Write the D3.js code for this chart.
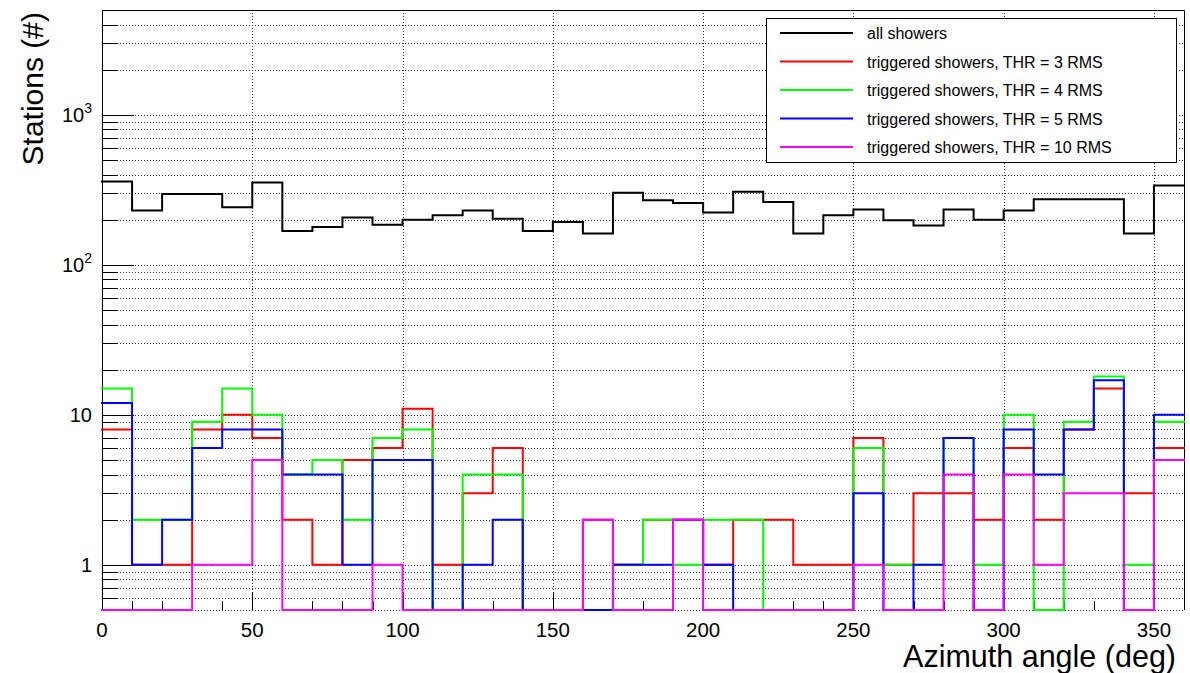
<!DOCTYPE html>
<html>
<head>
<meta charset="utf-8">
<script src="https://cdn.jsdelivr.net/npm/d3@7"></script>
<style>
  body { margin: 0; background: #fff; }
  svg { display: block; }
  text { font-family: "Liberation Sans", Arial, Helvetica, sans-serif; fill: #000; }
</style>
</head>
<body>
<svg id="chart" width="1190" height="673"></svg>
<script>
// Azimuth bins (lower edges, degrees), 10 degrees wide
const binLow = [0, 10, 20, 30, 40, 50, 60, 70, 80, 90, 100, 110, 120, 130, 140, 150, 160, 170,
                180, 190, 200, 210, 220, 230, 240, 250, 260, 270, 280, 290, 300, 310, 320, 330, 340, 350];
const binWidth = 10;

// Station counts per azimuth bin
const allShowers = [359, 230, 297, 297, 242, 354, 168, 179, 207, 185, 200, 214, 230, 203, 168, 193, 162, 302,
                    270, 258, 223, 307, 262, 162, 214, 234, 198, 183, 234, 200, 230, 274, 274, 274, 162, 338];
const thr3  = [8, 1, 1, 8, 10, 7, 2, 1, 5, 6, 11, 1, 3, 6, 0, 0, 2, 1,
               2, 2, 1, 2, 2, 1, 1, 7, 1, 3, 3, 2, 6, 2, 8, 15, 3, 6];
const thr4  = [15, 2, 2, 9, 15, 10, 4, 5, 2, 7, 8, 0, 4, 4, 0, 0, 0, 1,
               2, 1, 2, 2, 0, 0, 0, 6, 1, 1, 7, 1, 10, 0, 9, 18, 1, 9];
const thr5  = [12, 1, 2, 6, 8, 8, 4, 4, 1, 5, 5, 0, 1, 2, 0, 0, 0, 1,
               1, 2, 1, 0, 0, 0, 0, 3, 0, 1, 7, 0, 8, 4, 8, 17, 0, 10];
const thr10 = [0, 0, 0, 1, 1, 5, 0, 0, 0, 1, 0, 0, 0, 0, 0, 0, 2, 0,
               0, 2, 0, 0, 0, 0, 0, 1, 0, 0, 4, 0, 4, 1, 3, 3, 0, 5];

const seriesNames = ["all showers",
                     "triggered showers, THR = 3 RMS",
                     "triggered showers, THR = 4 RMS",
                     "triggered showers, THR = 5 RMS",
                     "triggered showers, THR = 10 RMS"];
const seriesColors = ["#000000", "#ff0000", "#00ff00", "#0000ff", "#ff00ff"];
const seriesValues = [allShowers, thr3, thr4, thr5, thr10];

// Axis ticks and labels
const xMajorTicks = [0, 50, 100, 150, 200, 250, 300, 350];
const xTickLabels = ["0", "50", "100", "150", "200", "250", "300", "350"];
const yMajorTicks = [1, 10, 100, 1000];
const yTickLabels = [["1", ""], ["10", ""], ["10", "2"], ["10", "3"]];
const xTitle = "Azimuth angle (deg)";
const yTitle = "Stations (#)";

// ---- layout ----
const frame = { left: 102, right: 1184, top: 10, bottom: 610 };
const svg = d3.select("#chart");

const x = d3.scaleLinear().domain([0, 360]).range([frame.left, frame.right]);
const y = d3.scaleLog().domain([0.5, 5000]).range([frame.bottom, frame.top]);
const yMin = y.domain()[0];

// all log-axis ticks strictly inside the frame
const yAllTicks = y.ticks().filter(v => v > yMin * 1.0001 && v < y.domain()[1] * 0.9999);
const xMinorTicks = binLow.filter(v => v > 0 && !xMajorTicks.includes(v));

const gridStyle = sel => sel.attr("stroke", "#333").attr("stroke-width", 1)
                            .attr("stroke-dasharray", "1 2").attr("fill", "none");

// grid
const grid = svg.append("g");
grid.selectAll("line.h").data(yAllTicks).join("line")
  .attr("x1", frame.left).attr("x2", frame.right)
  .attr("y1", d => Math.round(y(d)) + 0.5).attr("y2", d => Math.round(y(d)) + 0.5)
  .call(gridStyle);
grid.selectAll("line.v").data(xMajorTicks.filter(v => v > 0)).join("line")
  .attr("x1", d => Math.round(x(d)) + 0.5).attr("x2", d => Math.round(x(d)) + 0.5)
  .attr("y1", frame.top).attr("y2", frame.bottom)
  .call(gridStyle);

// bottom edge of the frame drawn dotted
svg.append("line")
  .attr("x1", frame.left).attr("x2", frame.right)
  .attr("y1", frame.bottom + 0.5).attr("y2", frame.bottom + 0.5)
  .call(gridStyle);

// frame: left, top, right edges
svg.append("path")
  .attr("d", `M${frame.left + 0.5},${frame.bottom}V${frame.top + 0.5}H${frame.right + 0.5}V${frame.bottom}`)
  .attr("fill", "none").attr("stroke", "#000").attr("stroke-width", 1);

// y-axis ticks (pointing into the frame)
const ticks = svg.append("g").attr("stroke", "#000").attr("stroke-width", 1);
ticks.selectAll("line.ym").data(yAllTicks).join("line")
  .attr("x1", frame.left).attr("x2", d => frame.left + (yMajorTicks.includes(d) ? 32 : 16))
  .attr("y1", d => Math.round(y(d)) + 0.5).attr("y2", d => Math.round(y(d)) + 0.5);
// x-axis ticks
ticks.selectAll("line.xM").data(xMajorTicks).join("line")
  .attr("x1", d => Math.round(x(d)) + 0.5).attr("x2", d => Math.round(x(d)) + 0.5)
  .attr("y1", frame.bottom).attr("y2", frame.bottom - 18);
ticks.selectAll("line.xm").data(xMinorTicks).join("line")
  .attr("x1", d => Math.round(x(d)) + 0.5).attr("x2", d => Math.round(x(d)) + 0.5)
  .attr("y1", frame.bottom).attr("y2", frame.bottom - 9);

// histograms (zero bins sit on the lower edge of the log axis)
const line = d3.line().x(d => x(d[0])).y(d => y(Math.max(d[1], yMin)));
const hist = svg.append("g");
seriesValues.forEach((vals, k) => {
  const pts = [];
  vals.forEach((v, i) => { pts.push([binLow[i], v]); pts.push([binLow[i] + binWidth, v]); });
  hist.append("path")
    .attr("d", line(pts))
    .attr("fill", "none")
    .attr("stroke", seriesColors[k])
    .attr("stroke-width", 2)
    .attr("stroke-linejoin", "miter")
    .attr("stroke-linecap", "square");
});

// x tick labels
svg.append("g").selectAll("text").data(xMajorTicks).join("text")
  .attr("x", d => x(d)).attr("y", 637)
  .attr("text-anchor", "middle").attr("font-size", 20.5)
  .text((d, i) => xTickLabels[i]);

// y tick labels with optional exponent
const yl = svg.append("g").selectAll("text").data(yMajorTicks).join("text")
  .attr("x", 92).attr("y", d => y(d) + 7)
  .attr("text-anchor", "end").attr("font-size", 20);
yl.append("tspan").text((d, i) => yTickLabels[i][0]);
yl.append("tspan").attr("font-size", 14).attr("dy", -9)
  .text((d, i) => yTickLabels[i][1]);

// axis titles
svg.append("text")
  .attr("x", 1176).attr("y", 667)
  .attr("text-anchor", "end").attr("font-size", 30.5)
  .text(xTitle);
svg.append("text")
  .attr("transform", "translate(43,12) rotate(-90)")
  .attr("text-anchor", "end").attr("font-size", 30)
  .text(yTitle);

// legend
const legend = svg.append("g");
legend.append("rect")
  .attr("x", 766.5).attr("y", 18.5).attr("width", 410).attr("height", 144)
  .attr("fill", "#fff").attr("stroke", "#000").attr("stroke-width", 1);
const rowY = d3.scaleLinear().domain([0, seriesNames.length - 1]).range([33, 147]);
seriesNames.forEach((name, k) => {
  legend.append("line")
    .attr("x1", 780).attr("x2", 853)
    .attr("y1", rowY(k)).attr("y2", rowY(k))
    .attr("stroke", seriesColors[k]).attr("stroke-width", 2);
  legend.append("text")
    .attr("x", 867).attr("y", rowY(k) + 6)
    .attr("font-size", 16)
    .text(name);
});
</script>
</body>
</html>
